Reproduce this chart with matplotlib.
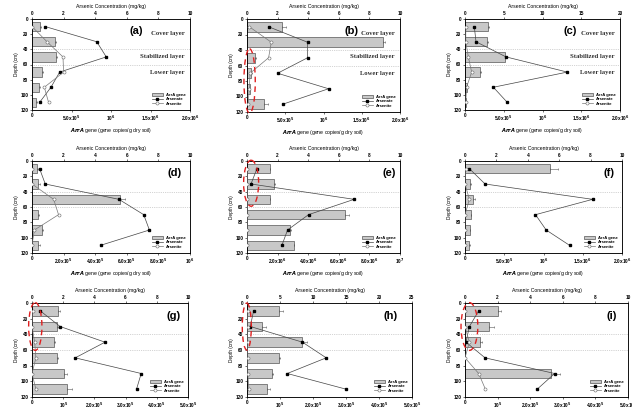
import numpy as np
import matplotlib.pyplot as plt
from matplotlib.patches import Ellipse, Patch
from matplotlib.lines import Line2D

plt.rcParams["font.family"] = ["Liberation Sans", "DejaVu Sans"]
plt.rcParams["font.weight"] = "bold"

depths = [10, 30, 50, 70, 90, 110]
panel_names = ["(a)", "(b)", "(c)", "(d)", "(e)", "(f)", "(g)", "(h)", "(i)"]
layer_names = ["Cover layer", "Stabilized layer", "Lower layer"]
layer_depths = [19, 49, 70]
nan = np.nan

# ArrA gene copies / g dry soil (bars) and their error
arra_a = [9.7e4, 2.9e5, 3.0e5, 1.26e5, 9.0e4, 5.5e4]
err_a = [1.5e4, 2.0e4, 1.5e4, 1.0e4, 1.0e4, 1.0e4]
arra_b = [4.57e5, 1.78e6, 1.1e5, 5.0e4, 3.5e4, 2.2e5]
err_b = [5.0e4, 3.0e4, 1.0e4, 1.0e4, 5.0e3, 6.0e4]
arra_c = [3.0e5, 2.8e5, 5.2e5, 1.9e5, 2.0e4, 1.3e4]
err_c = [1.5e4, 1.5e4, 1.0e4, 1.5e4, 5.0e3, 3.0e3]
arra_d = [3.2e4, 3.6e4, 5.6e5, 3.8e4, 6.3e4, 3.8e4]
err_d = [5.0e3, 1.5e4, 3.0e4, 5.0e3, 5.0e3, 1.0e4]
arra_e = [1.48e6, 1.74e6, 1.48e6, 6.4e6, 2.83e6, 3.04e6]
err_e = [2.0e4, 8.0e4, 3.0e4, 2.5e5, 5.0e4, 5.0e4]
arra_f = [1.08e6, 6.4e4, 1.06e5, 7.7e4, 6.4e4, 5.5e4]
err_f = [1.1e5, 1.0e4, 2.0e4, 5.0e3, 5.0e3, 5.0e3]
arra_g = [8.2e4, 8.0e4, 6.9e4, 8.0e4, 1.01e5, 1.12e5]
err_g = [7.0e3, 3.0e3, 4.0e3, 3.0e3, 1.0e4, 1.5e4]
arra_h = [9.6e4, 4.4e4, 1.67e5, 9.6e4, 7.7e4, 6.2e4]
err_h = [1.3e4, 1.3e4, 1.4e4, 3.0e3, 3.0e3, 9.0e3]
arra_i = [1.02e5, 7.5e4, 4.6e4, nan, 2.64e5, nan]
err_i = [7.0e3, 1.4e4, 7.0e3, nan, 2.8e4, nan]

# arsenic concentration (mg/kg)
arsenate_a = [0.84, 4.1, 4.7, 1.75, 1.2, 0.48]
arsenite_a = [0.0, 0.95, 1.96, 2.0, 0.78, 1.05]
arsenate_b = [1.41, 3.96, 3.96, 2.0, 5.33, 2.33]
arsenite_b = [0.15, 1.59, 1.41, 0.2, 0.15, 0.07]
arsenate_c = [1.2, 1.42, 5.3, 13.2, 3.66, 5.46]
arsenite_c = [0.1, 0.1, 0.43, 0.86, 0.2, 0.1]
arsenate_d = [0.48, 0.84, 5.5, 7.07, 7.43, 4.34]
arsenite_d = [0.0, 0.0, 1.37, 1.68, 0.15, 0.0]
arsenate_e = [0.65, 0.26, 7.0, 4.02, 2.65, 2.28]
arsenite_e = [0.0, 0.0, 0.0, 0.0, 0.0, 0.0]
arsenate_f = [0.28, 1.28, 8.13, 4.49, 5.17, 6.66]
arsenite_f = [0.04, 0.0, 0.28, 0.0, 0.0, 0.0]
arsenate_g = [0.53, 1.8, 4.68, 2.77, 7.0, 6.7]
arsenite_g = [0.04, 0.0, 0.17, 0.25, 0.0, 0.25]
arsenate_h = [1.0, 0.5, 8.4, 12.0, 6.1, 15.0]
arsenite_h = [0.1, 0.1, 0.1, 0.1, 0.1, 0.3]
arsenate_i = [0.84, 0.27, 0.06, 1.23, 5.5, 4.43]
arsenite_i = [0.0, 0.0, 0.27, 0.0, 0.84, 1.25]

ticks_2e6 = ([0, 5e5, 1e6, 1.5e6, 2e6],
             ["0", "5.0x10$^5$", "10$^6$", "1.5x10$^6$", "2.0x10$^6$"])
ticks_1e6 = ([0, 2e5, 4e5, 6e5, 8e5, 1e6],
             ["0", "2.0x10$^5$", "4.0x10$^5$", "6.0x10$^5$", "8.0x10$^5$", "10$^6$"])
ticks_1e7 = ([0, 2e6, 4e6, 6e6, 8e6, 1e7],
             ["0", "2.0x10$^6$", "4.0x10$^6$", "6.0x10$^6$", "8.0x10$^6$", "10$^7$"])
ticks_5e5 = ([0, 1e5, 2e5, 3e5, 4e5, 5e5],
             ["0", "10$^5$", "2.0x10$^5$", "3.0x10$^5$", "4.0x10$^5$", "5.0x10$^5$"])
top_10 = [0, 2, 4, 6, 8, 10]
top_20 = [0, 5, 10, 15, 20]
top_25 = [0, 5, 10, 15, 20, 25]

# red dashed ellipses: (center conc, center depth, width conc, height depth)
ellipses = {1: (0.17, 80, 0.74, 83), 4: (0.27, 29, 0.98, 60),
            6: (0.21, 30, 0.85, 61), 7: (-0.03, 30, 1.37, 60),
            8: (0.27, 30, 1.03, 61)}

panels = [
    (arra_a, err_a, arsenate_a, arsenite_a, ticks_2e6, top_10, 0.66),
    (arra_b, err_b, arsenate_b, arsenite_b, ticks_2e6, top_10, 0.68),
    (arra_c, err_c, arsenate_c, arsenite_c, ticks_2e6, top_20, 0.68),
    (arra_d, err_d, arsenate_d, arsenite_d, ticks_1e6, top_10, 0.90),
    (arra_e, err_e, arsenate_e, arsenite_e, ticks_1e7, top_10, 0.93),
    (arra_f, err_f, arsenate_f, arsenite_f, ticks_2e6, top_10, 0.92),
    (arra_g, err_g, arsenate_g, arsenite_g, ticks_5e5, top_10, 0.91),
    (arra_h, err_h, arsenate_h, arsenite_h, ticks_5e5, top_25, 0.87),
    (arra_i, err_i, arsenate_i, arsenite_i, ticks_5e5, top_10, 0.90),
]

# axes boxes in pixels: left, right, top, bottom
W, H = 632, 412
boxes = [(32, 190, 19, 110), (247, 400, 19, 112), (465, 620, 19, 110),
         (32, 190, 161, 253), (247, 400, 161, 253), (465, 622, 161, 253),
         (32, 188, 303, 397), (247, 412, 303, 397), (465, 628, 303, 397)]

fig = plt.figure(figsize=(W / 100, H / 100), dpi=100)
fs = 3.4

for k, (arra, err, ate, ite, bt, tt, lab_x) in enumerate(panels):
    l, r, t, b = boxes[k]
    ax = fig.add_axes([l / W, 1 - b / H, (r - l) / W, (b - t) / H])
    ax.axhline(40, color="#aaaaaa", lw=0.5, ls=":", zorder=0)
    ax.axhline(60, color="#aaaaaa", lw=0.5, ls=":", zorder=0)
    ax.barh(depths, arra, height=12.5, color="#c8c8c8", edgecolor="#555555",
            lw=0.5, zorder=2)
    ax.errorbar(arra, depths, xerr=[np.zeros(6), err], fmt="none",
                ecolor="#555555", elinewidth=0.4, capsize=1, capthick=0.4, zorder=2)
    ax.set_xlim(bt[0][0], bt[0][-1])
    ax.set_xticks(bt[0])
    ax.set_xticklabels(bt[1])
    ax.set_ylim(120, 0)
    ax.set_yticks(range(0, 121, 20))
    ax.set_ylabel("Depth (cm)", fontsize=fs, labelpad=1)
    ax.set_xlabel("$\\bf{\\it{ArrA}}$ gene (gene copies/g dry soil)",
                  fontsize=fs + 0.3, labelpad=2)
    ax.tick_params(labelsize=fs, length=1.5, width=0.4, pad=1)

    ax2 = ax.twiny()
    ax2.plot(ate, depths, color="#444444", lw=0.5, marker="s", ms=2,
             mfc="black", mec="black", zorder=3)
    ax2.plot(ite, depths, color="#777777", lw=0.5, marker="o", ms=2.2,
             mfc="white", mec="#666666", mew=0.4, zorder=3)
    ax2.set_xlim(tt[0], tt[-1])
    ax2.set_xticks(tt)
    ax2.set_xlabel("Arsenic Concentration (mg/kg)", fontsize=fs + 0.3, labelpad=2)
    ax2.tick_params(labelsize=fs, length=1.5, width=0.4, pad=1)
    for a in (ax, ax2):
        for s in a.spines.values():
            s.set_linewidth(0.5)

    ax2.text(lab_x, 16, panel_names[k], transform=ax2.get_yaxis_transform(),
             fontsize=8, fontweight="bold", ha="center", va="center")
    if k < 3:
        for name, d in zip(layer_names, layer_depths):
            ax2.text(0.965, d, name, transform=ax2.get_yaxis_transform(),
                     fontsize=4.8, fontweight="bold", ha="right", va="center",
                     family="Liberation Serif", color="#333333")
    if k in ellipses:
        cx, cy, ew, eh = ellipses[k]
        ax2.add_patch(Ellipse((cx, cy), ew, eh, fill=False, ec="#e02020",
                              ls=(0, (4, 3)), lw=1.0, clip_on=False, zorder=5))

    handles = [Patch(fc="#c8c8c8", ec="#555555", lw=0.5),
               Line2D([], [], color="#444444", lw=0.5, marker="s", ms=2,
                      mfc="black", mec="black"),
               Line2D([], [], color="#777777", lw=0.5, marker="o", ms=2.2,
                      mfc="white", mec="#666666", mew=0.4)]
    ax2.legend(handles, ["ArrA gene", "Arsenate", "Arsenite"], loc="lower right",
               fontsize=3, frameon=False, handlelength=2.6, handleheight=0.6,
               labelspacing=0.1, borderaxespad=0.6)

fig.savefig("out.png", dpi=100)
